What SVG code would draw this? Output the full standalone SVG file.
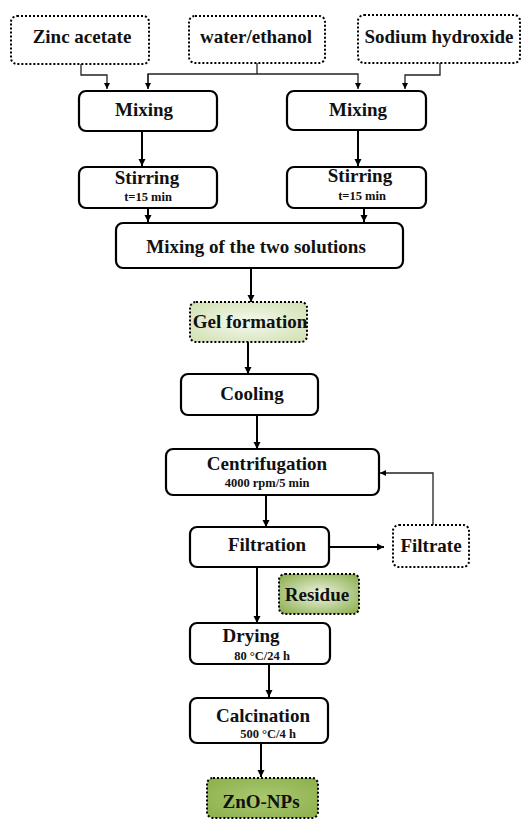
<svg xmlns="http://www.w3.org/2000/svg" width="521" height="820" viewBox="0 0 521 820">
<defs>
<style>
.box{fill:#fff;stroke:#000;stroke-width:2.2}
.dot{stroke:#000;stroke-width:2;stroke-dasharray:2 2;fill:#fff}
.t{font-family:"Liberation Serif","Times New Roman",serif;font-weight:bold;font-size:19px;fill:#111;text-anchor:middle}
.s{font-family:"Liberation Serif","Times New Roman",serif;font-weight:bold;font-size:12.5px;fill:#111;text-anchor:middle}
.thick{stroke:#000;stroke-width:2;fill:none}
.thin{stroke:#222;stroke-width:1.3;fill:none}
</style>
<marker id="ah" markerWidth="8" markerHeight="8" refX="7" refY="4" orient="auto" markerUnits="userSpaceOnUse">
<path d="M0,0.5 L7,4 L0,7.5 z" fill="#000"/>
</marker>
<marker id="as" markerWidth="7" markerHeight="7" refX="6" refY="3.5" orient="auto" markerUnits="userSpaceOnUse">
<path d="M0,0.5 L6,3.5 L0,6.5 z" fill="#000"/>
</marker>
<radialGradient id="gGel" cx="50%" cy="50%" r="70%">
<stop offset="0" stop-color="#f6f9ef"/>
<stop offset="1" stop-color="#cfe0b0"/>
</radialGradient>
<radialGradient id="gRes" cx="50%" cy="50%" r="70%">
<stop offset="0" stop-color="#eef4e2"/>
<stop offset="1" stop-color="#86ab46"/>
</radialGradient>
<radialGradient id="gZnO" cx="50%" cy="50%" r="70%">
<stop offset="0" stop-color="#a9c870"/>
<stop offset="1" stop-color="#8cb04c"/>
</radialGradient>
</defs>
<rect width="521" height="820" fill="#fff"/>

<g id="connectors">
<path class="thin" d="M81,64 V75 H107 V89" marker-end="url(#as)"/>
<path class="thin" d="M257,63 V74"/>
<path class="thin" d="M148,89 V74 H358 V89" marker-end="url(#as)"/>
<path class="thin" d="M148,74 V89" marker-end="url(#as)"/>
<path class="thin" d="M440,63 V75 H405 V89" marker-end="url(#as)"/>
<path class="thick" d="M142,131 V166" marker-end="url(#ah)"/>
<path class="thick" d="M358,131 V166" marker-end="url(#ah)"/>
<path class="thick" d="M148,208 V222" marker-end="url(#ah)"/>
<path class="thick" d="M364,208 V222" marker-end="url(#ah)"/>
<path class="thick" d="M251,268 V302" marker-end="url(#ah)"/>
<path class="thick" d="M248,342 V374" marker-end="url(#ah)"/>
<path class="thick" d="M257,415 V449" marker-end="url(#ah)"/>
<path class="thick" d="M266,495 V527" marker-end="url(#ah)"/>
<path class="thick" d="M329,547 H384" marker-end="url(#ah)"/>
<path class="thin" d="M433,525 V473 H380" marker-end="url(#as)"/>
<path class="thick" d="M257,567 V623" marker-end="url(#ah)"/>
<path class="thick" d="M269,664 V697" marker-end="url(#ah)"/>
<path class="thick" d="M261,743 V777" marker-end="url(#ah)"/>
</g>

<g id="zinc-acetate">
<rect class="dot" x="11" y="16" width="138" height="48" rx="6"/>
<text class="t" x="82" y="43">Zinc acetate</text>
</g>
<g id="water-ethanol">
<rect class="dot" x="189" y="16" width="136" height="47" rx="6"/>
<text class="t" x="256" y="43">water/ethanol</text>
</g>
<g id="sodium-hydroxide">
<rect class="dot" x="358" y="15" width="162" height="48" rx="6"/>
<text class="t" x="439" y="43">Sodium hydroxide</text>
</g>
<g id="mixing-left">
<rect class="box" x="79" y="91" width="138" height="40" rx="7"/>
<text class="t" x="144" y="116">Mixing</text>
</g>
<g id="mixing-right">
<rect class="box" x="287" y="91" width="139" height="39" rx="7"/>
<text class="t" x="358" y="116">Mixing</text>
</g>
<g id="stirring-left">
<rect class="box" x="79" y="167" width="138" height="41" rx="7"/>
<text class="t" x="147" y="184">Stirring</text>
<text class="s" x="148" y="201">t=15 min</text>
</g>
<g id="stirring-right">
<rect class="box" x="287" y="167" width="139" height="41" rx="7"/>
<text class="t" x="360" y="182">Stirring</text>
<text class="s" x="362" y="200">t=15 min</text>
</g>
<g id="mixing-two">
<rect class="box" x="116" y="223" width="287" height="45" rx="7"/>
<text class="t" x="256" y="253">Mixing of the two solutions</text>
</g>
<g id="gel-formation">
<rect x="190" y="302" width="117" height="40" rx="6" fill="url(#gGel)" stroke="#000" stroke-width="2" stroke-dasharray="2 2"/>
<text class="t" x="250" y="328">Gel formation</text>
</g>
<g id="cooling">
<rect class="box" x="181" y="374" width="137" height="41" rx="7"/>
<text class="t" x="252" y="400">Cooling</text>
</g>
<g id="centrifugation">
<rect class="box" x="166" y="449" width="213" height="46" rx="7"/>
<text class="t" x="267" y="470">Centrifugation</text>
<text class="s" x="267" y="487">4000 rpm/5 min</text>
</g>
<g id="filtration">
<rect class="box" x="190" y="527" width="139" height="40" rx="7"/>
<text class="t" x="267" y="551">Filtration</text>
</g>
<g id="filtrate">
<rect class="dot" x="393" y="525" width="76" height="42" rx="6"/>
<text class="t" x="431" y="552">Filtrate</text>
</g>
<g id="residue">
<rect x="279" y="574" width="80" height="40" rx="6" fill="url(#gRes)" stroke="#000" stroke-width="2" stroke-dasharray="2 2"/>
<text class="t" x="317" y="601">Residue</text>
</g>
<g id="drying">
<rect class="box" x="190" y="623" width="140" height="41" rx="7"/>
<text class="t" x="251" y="642">Drying</text>
<text class="s" x="262" y="660">80 °C/24 h</text>
</g>
<g id="calcination">
<rect class="box" x="190" y="698" width="138" height="45" rx="7"/>
<text class="t" x="263" y="722">Calcination</text>
<text class="s" x="268" y="738">500 °C/4 h</text>
</g>
<g id="zno-nps">
<rect x="207" y="778" width="111" height="40" rx="6" fill="url(#gZnO)" stroke="#000" stroke-width="2" stroke-dasharray="2 2"/>
<text class="t" x="261" y="808">ZnO-NPs</text>
</g>
</svg>
